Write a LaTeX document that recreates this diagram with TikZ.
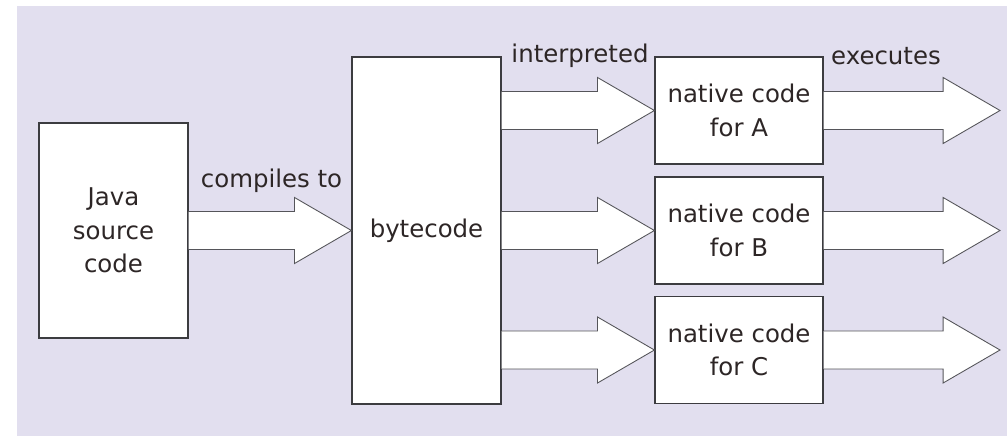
\documentclass[tikz,border=0pt]{standalone}
\usepackage{fontspec}
\setmainfont{DejaVu Sans}
\usetikzlibrary{calc}

% fat arrow from the edge of one node to the side of another
\newcommand{\fatarrow}[2]{%
  \draw[fat] let \p1 = (#1), \p2 = (#2) in
    (\x1,{\y2+10.8pt}) -- ({\x2-32.4pt},{\y2+10.8pt}) -- ({\x2-32.4pt},{\y2+18.8pt})
    -- (\x2,\y2) -- ({\x2-32.4pt},{\y2-18.8pt}) -- ({\x2-32.4pt},{\y2-10.8pt})
    -- (\x1,{\y2-10.8pt});
}

\begin{document}
\begin{tikzpicture}[x=0.02cm, y=-0.02cm]

  \definecolor{lavender}{RGB}{226,223,239}
  \definecolor{ink}{RGB}{45,38,38}
  \definecolor{boxline}{RGB}{60,60,64}
  \definecolor{arrowline}{RGB}{85,85,90}

  \tikzstyle{box} = [draw=boxline, fill=white, line width=0.7pt, inner sep=0, align=center, text=ink, font=\fontsize{13.9}{19}\selectfont]
  \tikzstyle{tag} = [text=ink, inner sep=0, font=\fontsize{13.9}{19}\selectfont]
  \tikzstyle{fat} = [draw=arrowline, fill=white, line width=0.5pt, line join=miter]

  \useasboundingbox (0,0) rectangle (1007,436);
  \fill[lavender] (17,6) rectangle (1007,436);

  \node[box, minimum width=2.98cm, minimum height=4.3cm] (java) at (113.5,230.5) {Java\\source\\code};
  \node[box, minimum width=2.98cm, minimum height=6.94cm] (bytecode) at (426.5,230.5) {bytecode};

  \node[box, minimum width=3.36cm, minimum height=2.14cm] (nativeA) at (739,110.5) {native code\\for A};
  \node[box, minimum width=3.36cm, minimum height=2.14cm] (nativeB) at (739,230.5) {native code\\for B};
  \node[box, minimum width=3.36cm, minimum height=2.14cm] (nativeC) at (739,350) {native code\\for C};

  \coordinate (outA) at (1000,110.5);
  \coordinate (outB) at (1000,230.5);
  \coordinate (outC) at (1000,350);

  \fatarrow{java.east}{bytecode.west}

  \fatarrow{bytecode.east}{nativeA.west}
  \fatarrow{bytecode.east}{nativeB.west}
  \fatarrow{bytecode.east}{nativeC.west}

  \fatarrow{nativeA.east}{outA}
  \fatarrow{nativeB.east}{outB}
  \fatarrow{nativeC.east}{outC}

  \node[tag] (compiles) at (271.5,181) {compiles to};
  \node[tag] (interpreted) at (580,56) {interpreted};
  \node[tag] (executes) at (886,56) {executes};

\end{tikzpicture}
\end{document}
